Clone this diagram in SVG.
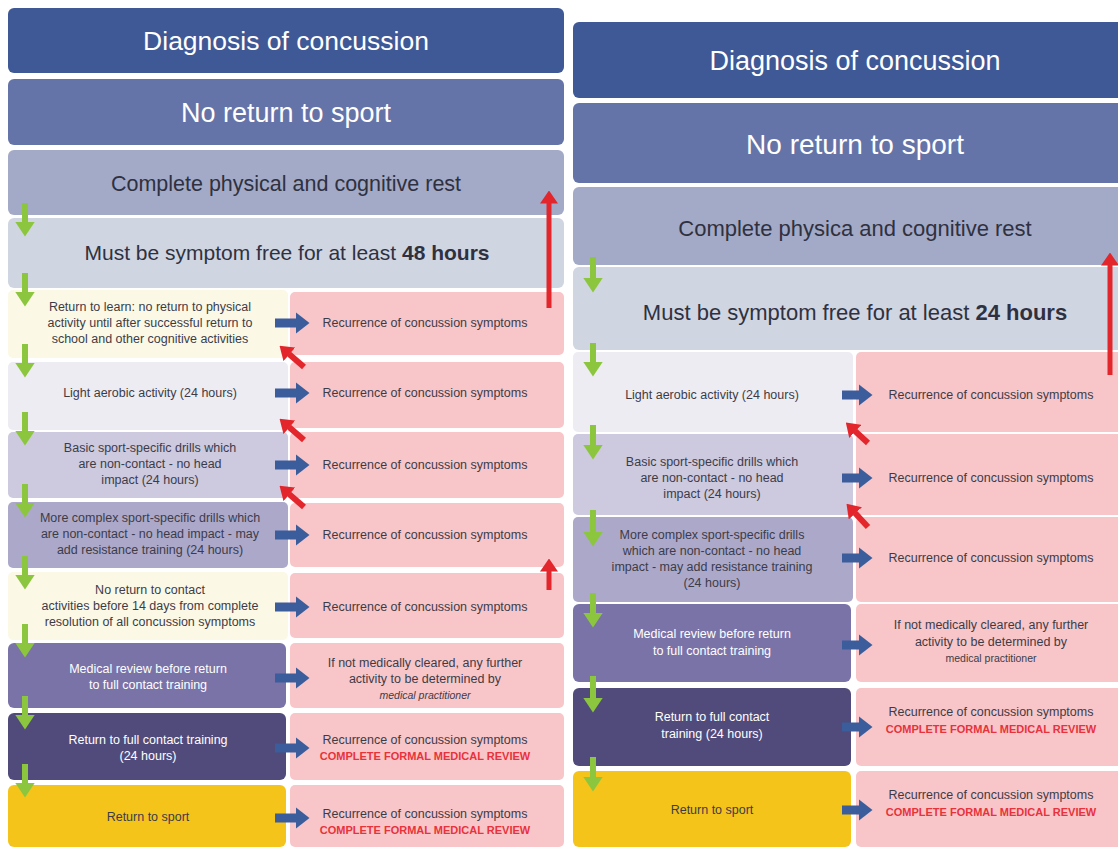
<svg xmlns="http://www.w3.org/2000/svg" width="1118" height="849" viewBox="0 0 1118 849">
<style>
text{font-family:"Liberation Sans",Arial,sans-serif;text-anchor:middle}
.hw{fill:#ffffff}
.hd{fill:#2f3140}
.t{font-size:12.5px;fill:#3c3c48}
.tw{font-size:12.5px;fill:#ffffff}
.pk{fill:#f8c6c8}
.rv{font-size:11px;fill:#e8323c;font-weight:bold}
.c1{fill:#3f5896}.c2{fill:#6574a8}.c3{fill:#a3aac7}.c4{fill:#d0d5e2}
.cr{fill:#fcf8e6}.lv{fill:#edecf3}.l3{fill:#cdc9de}.l4{fill:#aca8ca}
.mr{fill:#7a73a8}.fc{fill:#514b7b}.ys{fill:#f5c41a}
.ga{stroke:#8cc63f;stroke-width:6;fill:none}
.ba{stroke:#3b5d9c;stroke-width:9;fill:none}
.ra{stroke:#e3262b;stroke-width:5;fill:none}
.rd{stroke:#e3262b;stroke-width:6;fill:none}
</style>
<defs>
<marker id="mg" viewBox="0 0 15 20" refX="0.5" refY="10" markerWidth="15" markerHeight="20" markerUnits="userSpaceOnUse" orient="auto"><path d="M0,0 L15,10 L0,20 z" fill="#8cc63f"/></marker>
<marker id="mb" viewBox="0 0 14 22" refX="0.5" refY="11" markerWidth="14" markerHeight="22" markerUnits="userSpaceOnUse" orient="auto"><path d="M0,0 L14,11 L0,22 z" fill="#3b5d9c"/></marker>
<marker id="mr" viewBox="0 0 13 18" refX="0.5" refY="9" markerWidth="13" markerHeight="18" markerUnits="userSpaceOnUse" orient="auto"><path d="M0,0 L13,9 L0,18 z" fill="#e3262b"/></marker>
</defs>
<rect width="1118" height="849" fill="#ffffff"/>

<!-- LEFT COLUMN -->
<g id="L-diagnosis"><rect x="8" y="8" width="556" height="65" rx="6" class="c1"/><text x="286" y="50" font-size="26.5" class="hw">Diagnosis of concussion</text></g>
<g id="L-noreturn"><rect x="8" y="79" width="556" height="66" rx="6" class="c2"/><text x="286" y="122" font-size="27" class="hw">No return to sport</text></g>
<g id="L-rest"><rect x="8" y="150" width="556" height="65" rx="6" class="c3"/><text x="286" y="191" font-size="21.5" class="hd">Complete physical and cognitive rest</text></g>
<g id="L-symptomfree"><rect x="8" y="218" width="556" height="70" rx="6" class="c4"/><text x="287" y="260" font-size="21" class="hd">Must be symptom free for at least <tspan font-weight="bold">48 hours</tspan></text></g>

<g id="L-row1"><rect x="8" y="290" width="280" height="68" rx="5" class="cr"/><text class="t"><tspan x="150" y="311">Return to learn: no return to physical</tspan><tspan x="150" y="327">activity until after successful return to</tspan><tspan x="150" y="343">school and other cognitive activities</tspan></text></g>
<g id="L-row1-r"><rect x="290" y="292" width="274" height="63" rx="5" class="pk"/><text x="425" y="327" class="t">Recurrence of concussion symptoms</text></g>
<g id="L-row2"><rect x="8" y="362" width="280" height="68" rx="5" class="lv"/><text x="150" y="397" class="t">Light aerobic activity (24 hours)</text></g>
<g id="L-row2-r"><rect x="290" y="362" width="274" height="66" rx="5" class="pk"/><text x="425" y="397" class="t">Recurrence of concussion symptoms</text></g>
<g id="L-row3"><rect x="8" y="432" width="280" height="66" rx="5" class="l3"/><text class="t"><tspan x="150" y="452">Basic sport-specific drills which</tspan><tspan x="150" y="468">are non-contact - no head</tspan><tspan x="150" y="484">impact (24 hours)</tspan></text></g>
<g id="L-row3-r"><rect x="290" y="432" width="274" height="66" rx="5" class="pk"/><text x="425" y="469" class="t">Recurrence of concussion symptoms</text></g>
<g id="L-row4"><rect x="8" y="502" width="280" height="66" rx="5" class="l4"/><text class="t"><tspan x="150" y="522">More complex sport-specific drills which</tspan><tspan x="150" y="538">are non-contact - no head impact - may</tspan><tspan x="150" y="554">add resistance training (24 hours)</tspan></text></g>
<g id="L-row4-r"><rect x="290" y="503" width="274" height="64" rx="5" class="pk"/><text x="425" y="539" class="t">Recurrence of concussion symptoms</text></g>
<g id="L-row5"><rect x="8" y="572" width="280" height="68" rx="5" class="cr"/><text class="t"><tspan x="150" y="594">No return to contact</tspan><tspan x="150" y="610">activities before 14 days from complete</tspan><tspan x="150" y="626">resolution of all concussion symptoms</tspan></text></g>
<g id="L-row5-r"><rect x="290" y="573" width="274" height="65" rx="5" class="pk"/><text x="425" y="611" class="t">Recurrence of concussion symptoms</text></g>
<g id="L-row6"><rect x="8" y="643" width="278" height="65" rx="6" class="mr"/><text class="tw"><tspan x="148" y="673">Medical review before return</tspan><tspan x="148" y="689">to full contact training</tspan></text></g>
<g id="L-row6-r"><rect x="290" y="643" width="274" height="65" rx="5" class="pk"/><text class="t"><tspan x="425" y="667">If not medically cleared, any further</tspan><tspan x="425" y="683">activity to be determined by</tspan><tspan x="425" y="699" font-size="10.5" font-style="italic">medical practitioner</tspan></text></g>
<g id="L-row7"><rect x="8" y="713" width="278" height="67" rx="6" class="fc"/><text class="tw"><tspan x="148" y="744">Return to full contact training</tspan><tspan x="148" y="760">(24 hours)</tspan></text></g>
<g id="L-row7-r"><rect x="290" y="713" width="274" height="67" rx="5" class="pk"/><text x="425" y="744" class="t">Recurrence of concussion symptoms</text><text x="425" y="760" class="rv">COMPLETE FORMAL MEDICAL REVIEW</text></g>
<g id="L-row8"><rect x="8" y="785" width="278" height="62" rx="6" class="ys"/><text x="148" y="821" class="t" fill="#333">Return to sport</text></g>
<g id="L-row8-r"><rect x="290" y="785" width="274" height="62" rx="5" class="pk"/><text x="425" y="818" class="t">Recurrence of concussion symptoms</text><text x="425" y="834" class="rv">COMPLETE FORMAL MEDICAL REVIEW</text></g>

<!-- RIGHT COLUMN -->
<g id="R-diagnosis"><rect x="573" y="22" width="560" height="76" rx="6" class="c1"/><text x="855" y="70" font-size="27" class="hw">Diagnosis of concussion</text></g>
<g id="R-noreturn"><rect x="573" y="103" width="560" height="80" rx="6" class="c2"/><text x="855" y="154" font-size="28" class="hw">No return to sport</text></g>
<g id="R-rest"><rect x="573" y="187" width="560" height="78" rx="6" class="c3"/><text x="855" y="236" font-size="22" class="hd">Complete physica and cognitive rest</text></g>
<g id="R-symptomfree"><rect x="573" y="267" width="560" height="83" rx="6" class="c4"/><text x="855" y="320" font-size="22" class="hd">Must be symptom free for at least <tspan font-weight="bold">24 hours</tspan></text></g>

<g id="R-row1"><rect x="573" y="352" width="280" height="80" rx="5" class="lv"/><text x="712" y="399" class="t">Light aerobic activity (24 hours)</text></g>
<g id="R-row1-r"><rect x="856" y="352" width="270" height="80" rx="5" class="pk"/><text x="991" y="399" class="t">Recurrence of concussion symptoms</text></g>
<g id="R-row2"><rect x="573" y="434" width="280" height="81" rx="5" class="l3"/><text class="t"><tspan x="712" y="466">Basic sport-specific drills which</tspan><tspan x="712" y="482">are non-contact - no head</tspan><tspan x="712" y="498">impact (24 hours)</tspan></text></g>
<g id="R-row2-r"><rect x="856" y="434" width="270" height="81" rx="5" class="pk"/><text x="991" y="482" class="t">Recurrence of concussion symptoms</text></g>
<g id="R-row3"><rect x="573" y="517" width="280" height="85" rx="5" class="l4"/><text class="t"><tspan x="712" y="539">More complex sport-specific drills</tspan><tspan x="712" y="555">which are non-contact - no head</tspan><tspan x="712" y="571">impact - may add resistance training</tspan><tspan x="712" y="587">(24 hours)</tspan></text></g>
<g id="R-row3-r"><rect x="856" y="517" width="270" height="85" rx="5" class="pk"/><text x="991" y="562" class="t">Recurrence of concussion symptoms</text></g>
<g id="R-row4"><rect x="573" y="604" width="278" height="78" rx="6" class="mr"/><text class="tw"><tspan x="712" y="638">Medical review before return</tspan><tspan x="712" y="655">to full contact training</tspan></text></g>
<g id="R-row4-r"><rect x="856" y="604" width="270" height="78" rx="5" class="pk"/><text class="t"><tspan x="991" y="629">If not medically cleared, any further</tspan><tspan x="991" y="646">activity to be determined by</tspan><tspan x="991" y="662" font-size="10.5">medical practitioner</tspan></text></g>
<g id="R-row5"><rect x="573" y="688" width="278" height="78" rx="6" class="fc"/><text class="tw"><tspan x="712" y="721">Return to full contact</tspan><tspan x="712" y="738">training (24 hours)</tspan></text></g>
<g id="R-row5-r"><rect x="856" y="688" width="270" height="78" rx="5" class="pk"/><text x="991" y="716" class="t">Recurrence of concussion symptoms</text><text x="991" y="733" class="rv">COMPLETE FORMAL MEDICAL REVIEW</text></g>
<g id="R-row6"><rect x="573" y="771" width="278" height="76" rx="6" class="ys"/><text x="712" y="814" class="t" fill="#333">Return to sport</text></g>
<g id="R-row6-r"><rect x="856" y="771" width="270" height="76" rx="5" class="pk"/><text x="991" y="799" class="t">Recurrence of concussion symptoms</text><text x="991" y="816" class="rv">COMPLETE FORMAL MEDICAL REVIEW</text></g>

<!-- CONNECTORS -->
<g id="connectors">
<g id="green-arrows" marker-end="url(#mg)">
<line class="ga" x1="25" y1="203" x2="25" y2="222"/>
<line class="ga" x1="25" y1="273" x2="25" y2="292"/>
<line class="ga" x1="25" y1="344" x2="25" y2="363"/>
<line class="ga" x1="25" y1="412" x2="25" y2="431"/>
<line class="ga" x1="25" y1="484" x2="25" y2="503"/>
<line class="ga" x1="25" y1="556" x2="25" y2="575"/>
<line class="ga" x1="25" y1="624" x2="25" y2="643"/>
<line class="ga" x1="25" y1="696" x2="25" y2="715"/>
<line class="ga" x1="25" y1="764" x2="25" y2="783"/>
<line class="ga" x1="593" y1="257" x2="593" y2="278"/>
<line class="ga" x1="593" y1="343" x2="593" y2="362"/>
<line class="ga" x1="593" y1="425" x2="593" y2="445"/>
<line class="ga" x1="593" y1="510" x2="593" y2="532"/>
<line class="ga" x1="593" y1="593" x2="593" y2="613"/>
<line class="ga" x1="593" y1="676" x2="593" y2="698"/>
<line class="ga" x1="593" y1="757" x2="593" y2="777"/>
</g>
<g id="blue-arrows" marker-end="url(#mb)">
<line class="ba" x1="275" y1="323" x2="296" y2="323"/>
<line class="ba" x1="275" y1="393" x2="296" y2="393"/>
<line class="ba" x1="275" y1="465" x2="296" y2="465"/>
<line class="ba" x1="275" y1="535" x2="296" y2="535"/>
<line class="ba" x1="275" y1="607" x2="296" y2="607"/>
<line class="ba" x1="275" y1="678" x2="296" y2="678"/>
<line class="ba" x1="275" y1="748" x2="296" y2="748"/>
<line class="ba" x1="275" y1="818" x2="296" y2="818"/>
<line class="ba" x1="842" y1="395" x2="859" y2="395"/>
<line class="ba" x1="842" y1="478" x2="859" y2="478"/>
<line class="ba" x1="842" y1="558" x2="859" y2="558"/>
<line class="ba" x1="842" y1="645" x2="859" y2="645"/>
<line class="ba" x1="842" y1="727" x2="859" y2="727"/>
<line class="ba" x1="842" y1="810" x2="859" y2="810"/>
</g>
<g id="red-arrows" marker-end="url(#mr)">
<line class="ra" x1="549" y1="308" x2="549" y2="203"/>
<line class="ra" x1="549" y1="590" x2="549" y2="571"/>
<line class="ra" x1="1110" y1="375" x2="1110" y2="265"/>
<line class="rd" x1="304" y1="367" x2="289" y2="354"/>
<line class="rd" x1="304" y1="440" x2="289" y2="427"/>
<line class="rd" x1="304" y1="507" x2="289" y2="494"/>
<line class="rd" x1="868" y1="443" x2="855" y2="431"/>
<line class="rd" x1="868" y1="527" x2="855" y2="513"/>
</g>
</g>
</svg>
